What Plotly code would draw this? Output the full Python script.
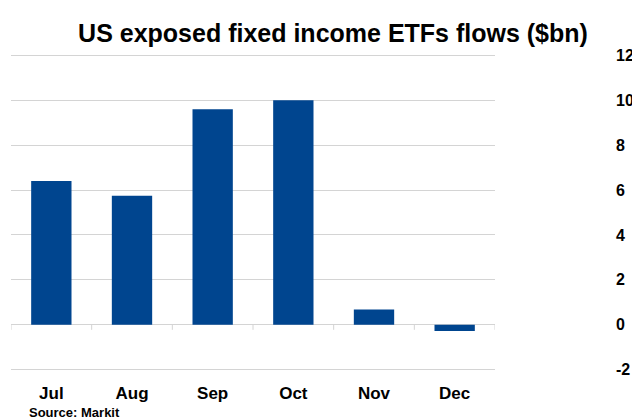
import plotly.graph_objects as go

months = ["Jul", "Aug", "Sep", "Oct", "Nov", "Dec"]
flows = [6.4, 5.75, 9.6, 10.0, 0.68, -0.27]
y_ticks = [-2, 0, 2, 4, 6, 8, 10, 12]
title_text = "US exposed fixed income ETFs flows ($bn)"
source_text = "Source: Markit"

BAR = "#00458F"
GRID = "#D4D4D4"
FONT = "Liberation Sans, Arial, sans-serif"

# page body has an 8px default margin, so the figure is sized to fit the window
W, H = 632, 412
ML, MR, MT, MB = 3, 145, 45, 48

fig = go.Figure()
fig.add_trace(go.Bar(x=months, y=flows, marker=dict(color=BAR, line=dict(width=0)),
                     width=0.5, showlegend=False))

# small tick marks hanging down from the zero line at category boundaries
for i in range(len(months) + 1):
    fig.add_shape(type="line", xref="x", yref="y", x0=i - 0.5, x1=i - 0.5,
                  ysizemode="pixel", yanchor=0, y0=0, y1=-5,
                  line=dict(color=GRID, width=1))

fig.update_layout(
    width=W, height=H,
    margin=dict(l=ML, r=MR, t=MT, b=MB, autoexpand=False),
    paper_bgcolor="white", plot_bgcolor="white",
    font=dict(family=FONT, color="black"),
    title=dict(text="<b>" + title_text + "</b>", x=325 / W, xanchor="center",
               y=1 - 25 / H, yanchor="middle",
               font=dict(size=25, family=FONT, color="black")),
    bargap=0.5,
)
fig.update_xaxes(type="category", categoryorder="array", categoryarray=months,
                 range=[-0.5, len(months) - 0.5], showgrid=False, showline=False,
                 automargin=False,
                 ticks="", ticklabelstandoff=9,
                 tickfont=dict(size=17, family=FONT, color="black"),
                 tickprefix="<b>", ticksuffix="</b>")
fig.update_yaxes(side="right", range=[-2.1, 12.1], tickvals=y_ticks,
                 ticktext=["<b>%d</b>" % v for v in y_ticks],
                 automargin=False,
                 showgrid=True, gridcolor=GRID, gridwidth=1,
                 zeroline=True, zerolinecolor=GRID, zerolinewidth=1,
                 showline=False, ticks="", ticklabelstandoff=120,
                 tickfont=dict(size=16, family=FONT, color="black"))
plot_h = H - MT - MB
fig.add_annotation(text="<b>" + source_text + "</b>", xref="paper", yref="paper",
                   x=(19 - ML) / (W - ML - MR), y=((H - MB) - 404) / plot_h,
                   xanchor="left", yanchor="middle",
                   showarrow=False, font=dict(size=13, family=FONT, color="black"))

fig.write_html("out.html")
